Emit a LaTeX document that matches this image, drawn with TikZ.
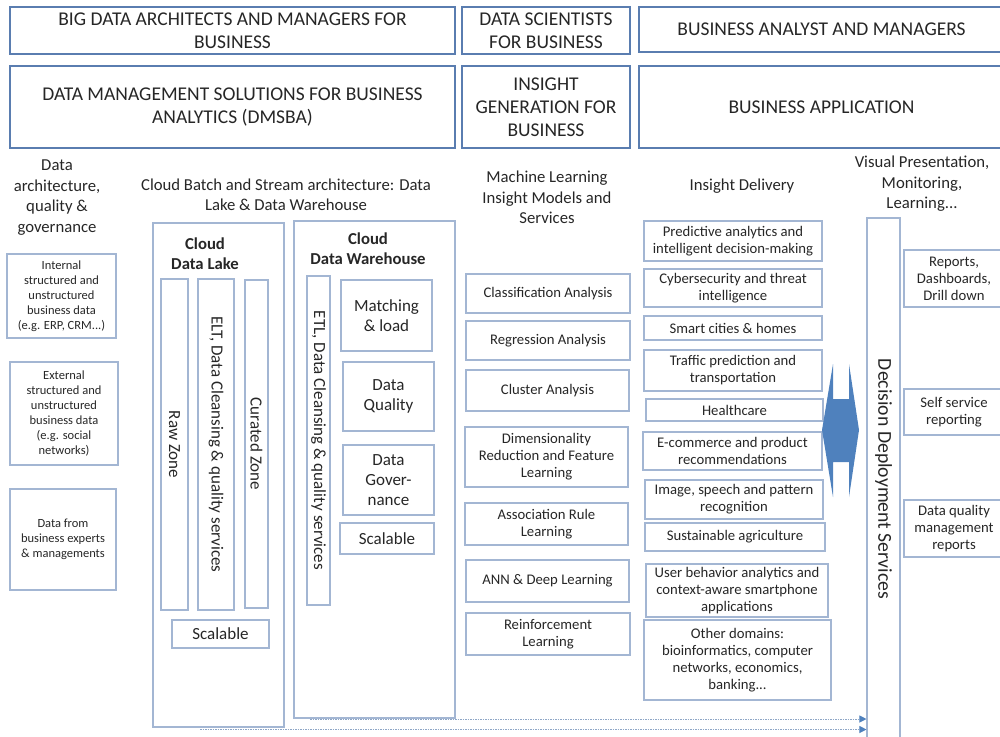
\documentclass[tikz,border=0pt]{standalone}
\usepackage{fontspec}
\setmainfont{Carlito}
\usetikzlibrary{arrows.meta}
\definecolor{rolecol}{HTML}{5A7DB0}
\definecolor{boxcol}{HTML}{A3B6D3}
\definecolor{arrowcol}{HTML}{4F81BD}
\definecolor{feedcol}{HTML}{8EA6C6}
\definecolor{txtcol}{HTML}{262626}
\begin{document}
\begin{tikzpicture}[x=1pt,y=-1pt]
\tikzstyle{role} = [draw=rolecol, line width=1.1pt, inner sep=0pt, align=center, text=txtcol, font=\fontsize{19.5}{23}\selectfont]
\tikzstyle{head} = [inner sep=0pt, align=center, text=txtcol, font=\fontsize{16.7}{20.5}\selectfont]
\tikzstyle{box} = [draw=boxcol, line width=1.1pt, inner sep=0pt, align=center, text=txtcol, font=\fontsize{14.7}{17}\selectfont]
\tikzstyle{src} = [box, font=\fontsize{12.5}{15}\selectfont]
\tikzstyle{part} = [box, font=\fontsize{17}{20}\selectfont]
\tikzstyle{zone} = [part, rotate=-90]
\tikzstyle{title} = [inner sep=0pt, align=center, text=txtcol, font=\fontsize{16.7}{20}\selectfont\bfseries]
\tikzstyle{feed} = [draw=feedcol, line width=1pt, dash pattern=on 1.5pt off 1pt, -{Triangle[length=7pt,width=7pt,fill=arrowcol,color=arrowcol]}]

\useasboundingbox (0,0) rectangle (1000,736);

% roles and solution layers
\node[role, minimum width=445, minimum height=47] (role1) at (232.5,30.5) {BIG DATA ARCHITECTS AND MANAGERS FOR\\BUSINESS};
\node[role, minimum width=168, minimum height=47] (role2) at (546,30.5) {DATA SCIENTISTS\\FOR BUSINESS};
\node[role, minimum width=365, minimum height=45] (role3) at (821.5,29.5) {BUSINESS ANALYST AND MANAGERS};
\node[role, minimum width=445, minimum height=82] (layer1) at (232.5,107) {DATA MANAGEMENT SOLUTIONS FOR BUSINESS\\ANALYTICS (DMSBA)};
\node[role, minimum width=168, minimum height=82] (layer2) at (546,107) {INSIGHT\\GENERATION FOR\\BUSINESS};
\node[role, minimum width=365, minimum height=82] (layer3) at (821.5,107) {BUSINESS APPLICATION};

% column headings
\node[head] (hgov) at (57,197.5) {Data\\architecture,\\quality \&\\governance};
\node[head] (hcloud) at (286,195) {Cloud Batch and Stream architecture: Data\\Lake \& Data Warehouse};
\node[head] (hml) at (547,197.5) {Machine Learning\\Insight Models and\\Services};
\node[head] (hdel) at (742,186) {Insight Delivery};
\node[head] (hvis) at (922,184) {Visual Presentation,\\Monitoring,\\Learning...};

% data sources
\node[src, minimum width=109, minimum height=84] (internal) at (61.5,296) {Internal\\structured and\\unstructured\\business data\\(e.g. ERP, CRM...)};
\node[src, minimum width=108, minimum height=103] (external) at (64,413.5) {External\\structured and\\unstructured\\business data\\(e.g. social\\networks)};
\node[src, minimum width=106, minimum height=101] (experts) at (63,539.5) {Data from\\business experts\\\& managements};

% cloud data lake
\node[box, minimum width=131, minimum height=504] (lake) at (218.5,475) {};
\node[title] (laketitle) at (205,254) {Cloud\\Data Lake};
\node[zone, minimum width=331, minimum height=27] (raw) at (174.5,444.5) {Raw Zone};
\node[zone, minimum width=331, minimum height=36] (elt) at (216,444.5) {ELT, Data Cleansing \& quality services};
\node[zone, minimum width=328, minimum height=23] (curated) at (256.5,444) {Curated Zone};
\node[part, minimum width=97, minimum height=28] (lakescale) at (220.5,634) {Scalable};

% cloud data warehouse
\node[box, minimum width=161, minimum height=497] (dw) at (374.5,469.5) {};
\node[title] (dwtitle) at (368,249) {Cloud\\Data Warehouse};
\node[zone, minimum width=329, minimum height=23] (etl) at (318.5,440.5) {ETL, Data Cleansing \& quality services};
\node[part, minimum width=91, minimum height=71] (match) at (386.5,315.5) {Matching\\\& load};
\node[part, minimum width=91, minimum height=69] (quality) at (388.5,396.5) {Data\\Quality};
\node[part, minimum width=91, minimum height=70] (gov) at (388.5,480) {Data\\Gover-\\nance};
\node[part, minimum width=94, minimum height=31] (dwscale) at (387,538.5) {Scalable};

% machine learning models
\node[box, minimum width=164, minimum height=39] (cls) at (548,293.5) {Classification Analysis};
\node[box, minimum width=164, minimum height=39] (reg) at (548,340.5) {Regression Analysis};
\node[box, minimum width=163, minimum height=41] (clu) at (547.5,390.5) {Cluster Analysis};
\node[box, minimum width=163, minimum height=60] (dim) at (546.5,457) {Dimensionality\\Reduction and Feature\\Learning};
\node[box, minimum width=163, minimum height=42] (asr) at (546.5,524) {Association Rule\\Learning};
\node[box, minimum width=163, minimum height=42] (ann) at (547.5,581) {ANN \& Deep Learning};
\node[box, minimum width=164, minimum height=42] (rl) at (548,634) {Reinforcement\\Learning};

% insight delivery
\node[box, minimum width=178, minimum height=40] (pred) at (733,241) {Predictive analytics and\\intelligent decision-making};
\node[box, minimum width=178, minimum height=38] (cyber) at (733,288) {Cybersecurity and threat\\intelligence};
\node[box, minimum width=178, minimum height=24] (smart) at (733,328) {Smart cities \& homes};
\node[box, minimum width=178, minimum height=41] (traffic) at (733,370.5) {Traffic prediction and\\transportation};
\node[box, minimum width=177, minimum height=22] (health) at (734.5,410) {Healthcare};
\node[box, minimum width=179, minimum height=38] (ecom) at (732.5,451) {E-commerce and product\\recommendations};
\node[box, minimum width=178, minimum height=39] (image) at (734,499.5) {Image, speech and pattern\\recognition};
\node[box, minimum width=180, minimum height=28] (agri) at (735,537) {Sustainable agriculture};
\node[box, minimum width=182, minimum height=53] (user) at (737,590.5) {User behavior analytics and\\context-aware smartphone\\applications};
\node[box, minimum width=187, minimum height=80] (other) at (737.5,660) {Other domains:\\bioinformatics, computer\\networks, economics,\\banking...};

% deployment and presentation
\node[zone, minimum width=522, minimum height=33, font=\fontsize{19.7}{23}\selectfont] (dds) at (883.5,479) {Decision Deployment Services};
\node[box, minimum width=100, minimum height=57] (reports) at (954,278.5) {Reports,\\Dashboards,\\Drill down};
\node[box, minimum width=100, minimum height=46] (self) at (954,412) {Self service\\reporting};
\node[box, minimum width=100, minimum height=57] (dqr) at (954,528.5) {Data quality\\management\\reports};

% two way arrow
\fill[arrowcol] (822,430) -- (833,364) -- (833,399) -- (849,399) -- (849,364) -- (859,430)
  -- (849,497) -- (849,462) -- (833,462) -- (833,497) -- cycle;

% feeds into deployment
\coordinate (dwout) at (310,719);
\coordinate (lakeout) at (200,729.5);
\draw[feed] (dwout) -- (dwout -| dds.south);
\draw[feed] (lakeout) -- (lakeout -| dds.south);
\end{tikzpicture}
\end{document}
